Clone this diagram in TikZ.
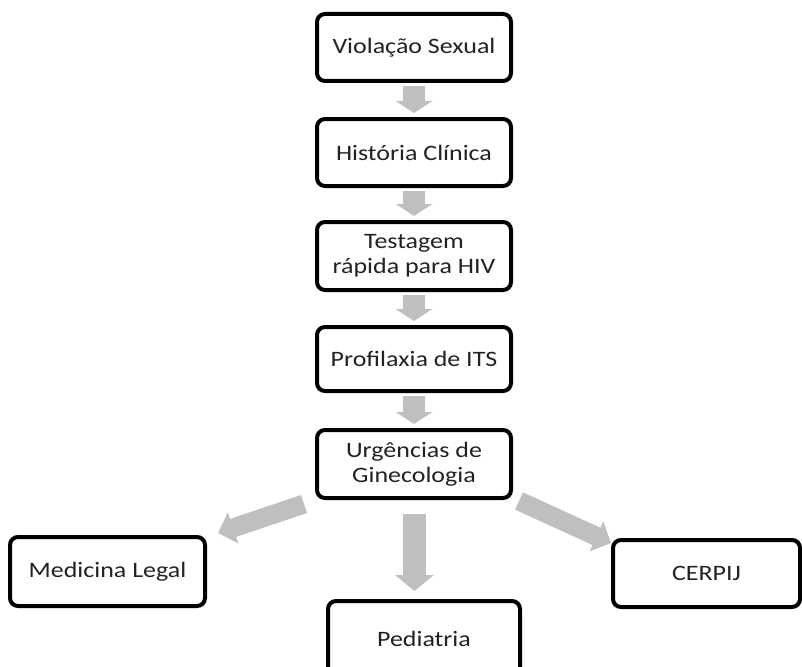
\documentclass[tikz,border=0pt]{standalone}
\usepackage{fontspec}
\setmainfont[FakeStretch=1.18]{Carlito}
\usetikzlibrary{arrows.meta}
\definecolor{arrowgray}{HTML}{BFBFBF}
\definecolor{textgray}{HTML}{222222}
\begin{document}
\begin{tikzpicture}[x=1pt,y=-1pt,
  box/.style={draw=black, line width=4pt, rounded corners=8pt, fill=white,
    align=center, inner sep=0pt, font=\fontsize{22}{25}\selectfont, text=textgray},
  smallarrow/.style={draw=arrowgray, line width=22pt,
    -{Triangle[length=12pt,width=36pt]}, shorten <=3pt, shorten >=4pt},
  bigarrow/.style={draw=arrowgray, line width=23pt,
    -{Triangle[length=16pt,width=38pt]}},
  diagarrow/.style={draw=arrowgray, line width=19pt,
    -{Triangle[length=16pt,width=32pt]}}
]
\useasboundingbox (0,0) rectangle (802,666);
\node[box, minimum width=194pt, minimum height=67pt] (v) at (414,47.5) {Violação Sexual};
\node[box, minimum width=194pt, minimum height=67pt] (h) at (414,152.5) {História Clínica};
\node[box, minimum width=194pt, minimum height=68pt] (t) at (414,256) {Testagem\\rápida para HIV};
\node[box, minimum width=194pt, minimum height=64pt] (p) at (414,359) {Profilaxia de ITS};
\node[box, minimum width=194pt, minimum height=68pt] (u) at (414,464) {Urgências de\\Ginecologia};
\node[box, minimum width=195pt, minimum height=69pt] (m) at (107.5,571.5) {Medicina Legal};
\node[box, minimum width=187pt, minimum height=67pt] (c) at (706.5,573.5) {CERPIJ};
\node[box, minimum width=192pt, minimum height=76pt] (pe) at (424,639) {\raisebox{-7pt}[0pt][0pt]{Pediatria}};

\draw[smallarrow] (v.south) -- (h.north);
\draw[smallarrow] (h.south) -- (t.north);
\draw[smallarrow] (t.south) -- (p.north);
\draw[smallarrow] (p.south) -- (u.north);

\coordinate (ubot) at ([shift={(0.5,14)}]u.south);
\coordinate (petop) at ([shift={(-9.5,-8)}]pe.north);
\draw[bigarrow] (ubot) -- (petop);

\coordinate (ltail) at ([shift={(-11,4)}]u.south west);
\coordinate (ltip) at ([shift={(11,-2)}]m.north east);
\draw[diagarrow] (ltail) -- (ltip);

\coordinate (rtail) at ([shift={(6,1)}]u.south east);
\coordinate (rtip) at ([shift={(0,5)}]c.north west);
\draw[diagarrow] (rtail) -- (rtip);
\end{tikzpicture}
\end{document}
